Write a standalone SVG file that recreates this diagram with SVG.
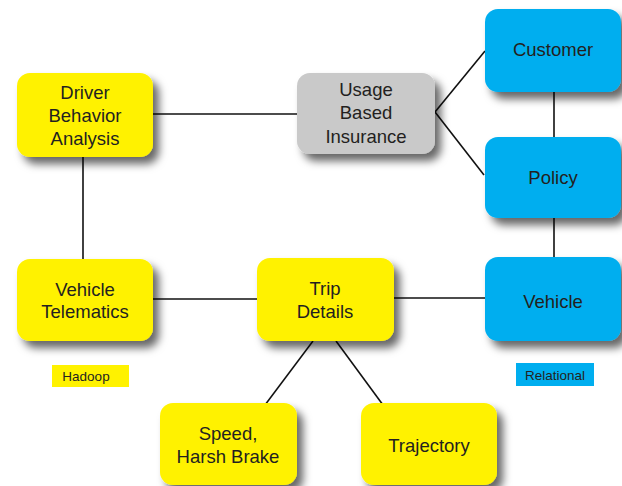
<svg xmlns="http://www.w3.org/2000/svg" width="622" height="486" viewBox="0 0 622 486">
  <defs>
    <filter id="shadow" x="-20%" y="-20%" width="150%" height="160%">
      <feDropShadow dx="6" dy="7" stdDeviation="4.5" flood-color="#000" flood-opacity="0.6"/>
    </filter>
  </defs>
  <style>
    .box { filter: url(#shadow); }
    .yellow { fill: #FFF200; }
    .blue { fill: #00AEEF; }
    .gray { fill: #C9C9C9; }
    .label { font-family: "Liberation Sans", Arial, sans-serif; font-size: 18.5px; fill: #231F20; text-anchor: middle; }
    .tag { font-family: "Liberation Sans", Arial, sans-serif; font-size: 13.5px; fill: #231F20; text-anchor: middle; }
    .conn { stroke: #111; stroke-width: 1.6; fill: none; }
  </style>
  <rect width="622" height="486" fill="#fff"/>

  <!-- connectors -->
  <g id="connectors">
    <line class="conn" x1="153" y1="114" x2="297" y2="114"/>
    <line class="conn" x1="83" y1="157" x2="83" y2="259"/>
    <line class="conn" x1="435" y1="112" x2="485" y2="51"/>
    <line class="conn" x1="435" y1="112" x2="484" y2="175"/>
    <line class="conn" x1="554" y1="92" x2="554" y2="137"/>
    <line class="conn" x1="554" y1="218" x2="554" y2="257"/>
    <line class="conn" x1="153" y1="299" x2="257" y2="299"/>
    <line class="conn" x1="394" y1="298" x2="485" y2="298"/>
    <line class="conn" x1="313" y1="341" x2="265" y2="405"/>
    <line class="conn" x1="336" y1="341" x2="383" y2="405"/>
  </g>

  <!-- Hadoop side -->
  <g id="driver-behavior-analysis">
    <rect class="box yellow" x="17" y="73" width="136" height="84" rx="13"/>
    <text class="label" x="85" y="99">Driver</text>
    <text class="label" x="85" y="122">Behavior</text>
    <text class="label" x="85" y="145">Analysis</text>
  </g>
  <g id="vehicle-telematics">
    <rect class="box yellow" x="17" y="259" width="136" height="82" rx="13"/>
    <text class="label" x="85" y="296">Vehicle</text>
    <text class="label" x="85" y="318">Telematics</text>
  </g>
  <g id="trip-details">
    <rect class="box yellow" x="257" y="258" width="137" height="83" rx="13"/>
    <text class="label" x="325" y="295">Trip</text>
    <text class="label" x="325" y="318">Details</text>
  </g>
  <g id="speed-harsh-brake">
    <rect class="box yellow" x="160" y="403" width="137" height="82" rx="13"/>
    <text class="label" x="228" y="440">Speed,</text>
    <text class="label" x="228" y="463">Harsh Brake</text>
  </g>
  <g id="trajectory">
    <rect class="box yellow" x="361" y="403" width="136" height="82" rx="13"/>
    <text class="label" x="429" y="452">Trajectory</text>
  </g>

  <!-- shared -->
  <g id="usage-based-insurance">
    <rect class="box gray" x="297" y="73" width="138" height="81" rx="13"/>
    <text class="label" x="366" y="96">Usage</text>
    <text class="label" x="366" y="119">Based</text>
    <text class="label" x="366" y="143">Insurance</text>
  </g>

  <!-- Relational side -->
  <g id="customer">
    <rect class="box blue" x="485" y="9" width="136" height="83" rx="13"/>
    <text class="label" x="553" y="56">Customer</text>
  </g>
  <g id="policy">
    <rect class="box blue" x="485" y="137" width="136" height="81" rx="13"/>
    <text class="label" x="553" y="184">Policy</text>
  </g>
  <g id="vehicle">
    <rect class="box blue" x="485" y="257" width="136" height="84" rx="13"/>
    <text class="label" x="553" y="308">Vehicle</text>
  </g>

  <!-- legends -->
  <g id="hadoop-tag">
    <rect class="yellow" x="52" y="365" width="77" height="22"/>
    <text class="tag" x="86" y="381">Hadoop</text>
  </g>
  <g id="relational-tag">
    <rect class="blue" x="516" y="363" width="78" height="23"/>
    <text class="tag" x="555" y="380">Relational</text>
  </g>
</svg>
